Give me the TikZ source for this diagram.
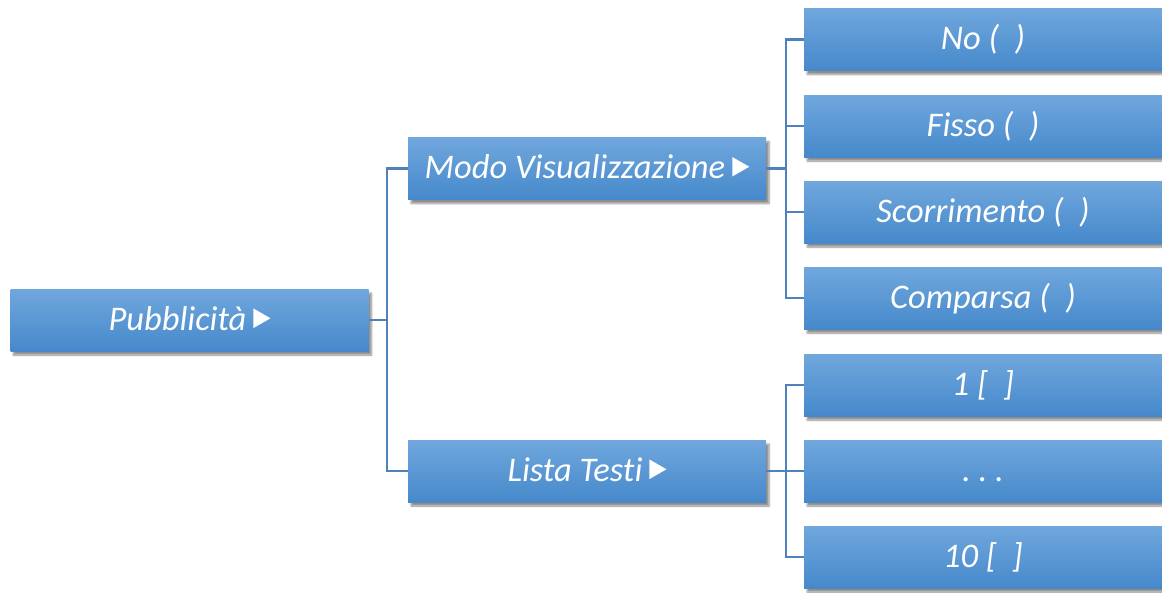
\documentclass[tikz,border=0pt]{standalone}
\usepackage{fontspec}
\setmainfont{Carlito}[Ligatures={NoCommon}]
\usetikzlibrary{shadows.blur}
\definecolor{boxtop}{HTML}{70A7DD}
\definecolor{boxmid}{HTML}{559BDF}
\definecolor{boxbot}{HTML}{4689CB}
\definecolor{linecol}{HTML}{4F81BD}
\newcommand{\tri}{\hspace{7pt}\tikz[baseline=-2pt,x=1pt,y=1pt]\fill[white] (0,0) -- (0,19.5) -- (17,9.75) -- cycle;}
\tikzset{
  menubox/.style={rectangle, minimum width=358pt, minimum height=62pt,
    inner sep=0pt, text height=24pt, text depth=4pt,
    top color=boxtop, middle color=boxmid, bottom color=boxbot,
    text=white, font=\fontsize{34.5}{34.5}\selectfont\itshape,
    blur shadow={shadow xshift=3pt, shadow yshift=-4pt, shadow blur steps=6, shadow opacity=45}},
  conn/.style={draw=linecol, line width=2.4pt}
}
\begin{document}
\begin{tikzpicture}[x=1pt,y=-1pt]
\useasboundingbox (0,0) rectangle (1162,592);
\node[menubox] (pub) at (189.5,320) {Pubblicità\tri};
\node[menubox] (modo) at (587,168.5) {Modo Visualizzazione\tri};
\node[menubox] (lista) at (587,471) {Lista Testi\tri};
\node[menubox] (no) at (983,39.5) {No (\ \ )};
\node[menubox] (fisso) at (983,126) {Fisso (\ \ )};
\node[menubox] (scorr) at (983,212) {Scorrimento (\ \ )};
\node[menubox] (comp) at (983,298) {Comparsa (\ \ )};
\node[menubox] (uno) at (983,385) {1 [\ \ ]};
\node[menubox] (dots) at (983,471) {.\ .\ .};
\node[menubox] (dieci) at (983,557) {10 [\ \ ]};
\coordinate (j1) at (387,320);
\coordinate (j2) at (786,168.5);
\coordinate (j3) at (786,471);
\draw[conn] (pub.east) -- (j1);
\draw[conn] (j1) |- (modo.west);
\draw[conn] (j1) |- (lista.west);
\draw[conn] (modo.east) -- (j2);
\foreach \n in {no,fisso,scorr,comp} \draw[conn] (j2) |- (\n.west);
\draw[conn] (lista.east) -- (j3);
\foreach \n in {uno,dots,dieci} \draw[conn] (j3) |- (\n.west);
\end{tikzpicture}
\end{document}
